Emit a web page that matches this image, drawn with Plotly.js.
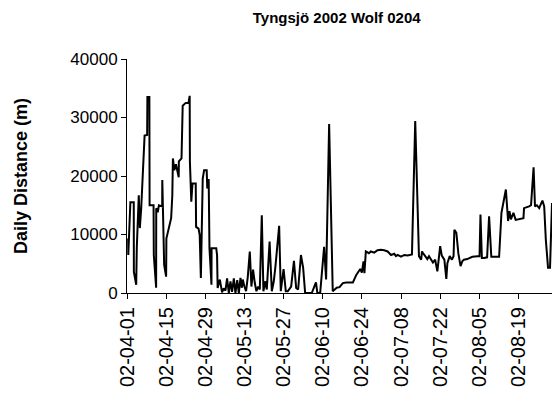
<!DOCTYPE html>
<html>
<head>
<meta charset="utf-8">
<script src="https://cdn.plot.ly/plotly-3.0.1.min.js"></script>
<style>html,body{margin:0;padding:0;background:#fff;}#chart{width:552px;height:405px;}</style>
</head>
<body>
<div id="chart"></div>
<script>
// Observation times ("MM-DD HH", year 2002) and daily distance in metres
const times = [
'04-01 10','04-01 11','04-02 05','04-03 10','04-03 11','04-04 07','04-04 12','04-05 05','04-05 14','04-06 02',
'04-07 07','04-08 05','04-08 07','04-09 00','04-09 02','04-10 12','04-10 14','04-11 10','04-11 11','04-12 00',
'04-12 10','04-13 14','04-13 15','04-14 07','04-15 00','04-15 02','04-16 19','04-17 05','04-17 10','04-17 22',
'04-18 12','04-19 12','04-19 13','04-20 12','04-20 22','04-22 00','04-23 00','04-23 10','04-23 12','04-24 00',
'04-24 10','04-25 14','04-25 17','04-26 14','04-27 00','04-27 10','04-28 02','04-28 14','04-29 12','04-29 17',
'04-30 05','04-30 12','05-01 05','05-01 06','05-02 22','05-03 05','05-03 10','05-04 05','05-05 00','05-05 14',
'05-06 05','05-06 19','05-07 10','05-08 00','05-08 14','05-09 05','05-09 19','05-10 10','05-11 00','05-11 14',
'05-12 02','05-12 10','05-13 00','05-13 14','05-14 05','05-14 22','05-15 12','05-16 02','05-16 17','05-17 07',
'05-17 22','05-18 12','05-19 05','05-19 19','05-20 10','05-21 00','05-22 00','05-22 19','05-23 12','05-24 02',
'05-25 10','05-26 00','05-27 00','05-27 19','05-28 12','05-29 17','05-30 17','05-31 12','06-01 05','06-02 05',
'06-03 00','06-03 17','06-06 02','06-07 14','06-08 02','06-09 02','06-10 12','06-11 05','06-12 07','06-13 14',
'06-15 00','06-16 00','06-17 05','06-18 10','06-20 19','06-22 00','06-23 10','06-24 00','06-24 14','06-24 22',
'06-25 10','06-26 12','06-27 05','06-28 10','06-29 14','06-30 19','07-02 00','07-03 05','07-04 10','07-05 14',
'07-06 05','07-06 19','07-08 00','07-09 05','07-10 10','07-11 22','07-13 02','07-13 19','07-14 10','07-15 05',
'07-15 12','07-15 22','07-16 19','07-17 10','07-18 00','07-18 14','07-19 10','07-20 05','07-21 00','07-22 00',
'07-22 14','07-23 12','07-24 05','07-24 14','07-25 10','07-26 05','07-26 19','07-27 02','07-27 19','07-28 12',
'07-29 07','07-29 22','07-30 12','07-31 17','08-02 12','08-04 10','08-05 02','08-05 10','08-05 22','08-06 17',
'08-07 19','08-08 12','08-09 07','08-12 02','08-12 22','08-14 12','08-15 07','08-15 19','08-16 07','08-17 05',
'08-18 00','08-20 19','08-21 00','08-22 19','08-23 12','08-24 10','08-24 22','08-25 14','08-26 10','08-27 05',
'08-27 14','08-28 05','08-28 19','08-29 14','08-30 07','08-31 00'
];
const distance = [
9300,6500,15500,15500,3600,1400,7700,16700,11100,14500,
26900,27000,33500,33500,15000,15000,6500,900,14500,13800,
15000,14800,19300,4800,2800,9300,12800,16700,23000,21000,
22000,19800,22500,23000,32000,32500,32500,33700,22400,15600,
18700,18700,11300,11000,9900,2550,19550,21000,21000,17850,
19500,7650,1400,7650,7650,6500,850,2300,100,800,
400,2500,0,2000,200,2500,0,2200,0,2600,
900,2300,1100,300,2800,7100,1100,4000,1700,300,
1100,600,13300,300,2000,600,8800,300,2000,4500,
11500,300,4100,300,300,1100,5500,850,600,6500,
4300,0,0,1800,0,0,7900,2300,28900,300,
900,1000,1700,1800,1800,3100,4100,3500,5400,3400,
7100,6800,7100,6900,7300,7400,7300,7100,6500,6700,
6300,6500,6200,6500,6400,6600,29400,18500,6300,5700,
7100,6800,6300,5800,6300,5800,5200,5700,3700,8000,
6400,5700,2400,5100,6300,5700,6300,10800,10300,6800,
4600,5400,5700,5800,6200,6300,6300,13400,6000,6000,
6100,13100,6200,6200,13700,17700,12300,14000,12600,13700,
12500,12800,14500,14800,15000,21500,14800,15000,14500,15400,
15800,14800,9100,4300,4300,15400
];
const yTickVals = [0, 10000, 20000, 30000, 40000];
const titleText = 'Tyngsjö 2002 Wolf 0204';
const yTitle = 'Daily Distance (m)';

const xs = times.map(t => '2002-' + t + ':00');

const trace = {
  x: xs, y: distance, type: 'scatter', mode: 'lines',
  line: {color: '#000000', width: 2},
  hoverinfo: 'skip'
};

const font = 'Liberation Sans, Arial, sans-serif';
const layout = {
  width: 552, height: 405,
  margin: {l: 127, r: 0, t: 59, b: 112, pad: 0},
  paper_bgcolor: '#ffffff', plot_bgcolor: '#ffffff',
  showlegend: false,
  font: {family: font, color: '#000000', size: 16},
  title: {text: '<b>' + titleText + '</b>', font: {family: font, size: 15, color: '#000'},
          x: 0.61, xanchor: 'center', y: 0.955, yanchor: 'middle', xref: 'container', yref: 'container'},
  xaxis: {
    type: 'date', range: ['2002-04-01', '2002-08-31'],
    tick0: '2002-04-01', dtick: 14 * 86400000, tickformat: '%y-%m-%d',
    tickangle: -90, ticks: 'outside', ticklen: 5, tickwidth: 1, tickcolor: '#000',
    showline: true, linecolor: '#000', linewidth: 1, showgrid: false, zeroline: false,
    tickfont: {family: font, size: 20, color: '#000'}, automargin: false
  },
  yaxis: {
    range: [0, 40000], tickvals: yTickVals, ticktext: yTickVals.map(String),
    ticks: 'outside', ticklen: 5, tickwidth: 1, tickcolor: '#000',
    showline: true, linecolor: '#000', linewidth: 1, showgrid: false, zeroline: false,
    tickfont: {family: font, size: 17, color: '#000'},
    title: {text: '<b>' + yTitle + '</b>', font: {family: font, size: 18, color: '#000'}, standoff: 38},
    automargin: true
  }
};

Plotly.newPlot('chart', [trace], layout, {displayModeBar: false, staticPlot: true});
</script>
</body>
</html>
